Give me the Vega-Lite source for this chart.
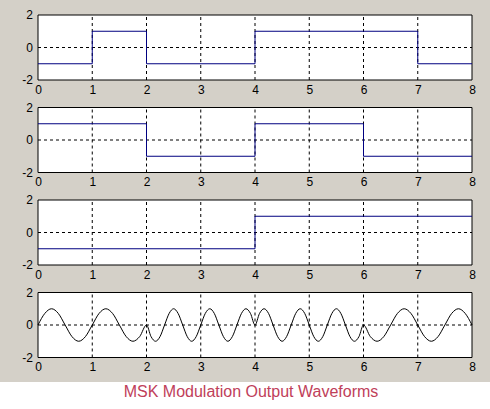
{
  "$schema": "https://vega.github.io/schema/vega-lite/v6.json",
  "background": "#d4d0c8",
  "padding": {"left": 0, "top": 9, "right": 0, "bottom": 0},
  "bounds": "full",
  "spacing": 6.5,
  "datasets": {
    "frame": [{}],
    "gridx": [{"g": 1}, {"g": 2}, {"g": 3}, {"g": 4}, {"g": 5}, {"g": 6}, {"g": 7}],
    "ylab": [{"v": -2}, {"v": 0}, {"v": 2}],
    "sq1": [
      {"x": 0, "y": -1}, {"x": 1, "y": 1}, {"x": 2, "y": -1}, {"x": 4, "y": 1}, {"x": 7, "y": -1}, {"x": 8, "y": -1}
    ],
    "sq2": [
      {"x": 0, "y": 1}, {"x": 2, "y": -1}, {"x": 4, "y": 1}, {"x": 6, "y": -1}, {"x": 8, "y": -1}
    ],
    "sq3": [
      {"x": 0, "y": -1}, {"x": 4, "y": 1}, {"x": 8, "y": 1}
    ],
    "wave": [
      {"x": 0, "y": 0}, {"x": 0.125, "y": 0.71}, {"x": 0.25, "y": 1}, {"x": 0.375, "y": 0.71}, {"x": 0.5, "y": 0}, {"x": 0.625, "y": -0.71}, {"x": 0.75, "y": -1}, {"x": 0.875, "y": -0.71},
      {"x": 1, "y": 0}, {"x": 1.125, "y": 0.71}, {"x": 1.25, "y": 1}, {"x": 1.375, "y": 0.71}, {"x": 1.5, "y": 0}, {"x": 1.625, "y": -0.71}, {"x": 1.75, "y": -1}, {"x": 1.875, "y": -0.71},
      {"x": 2, "y": 0}, {"x": 2.083, "y": -0.71}, {"x": 2.167, "y": -1}, {"x": 2.25, "y": -0.71}, {"x": 2.333, "y": 0}, {"x": 2.417, "y": 0.71}, {"x": 2.5, "y": 1}, {"x": 2.583, "y": 0.71}, {"x": 2.667, "y": 0}, {"x": 2.75, "y": -0.71}, {"x": 2.833, "y": -1}, {"x": 2.917, "y": -0.71},
      {"x": 3, "y": 0}, {"x": 3.083, "y": 0.71}, {"x": 3.167, "y": 1}, {"x": 3.25, "y": 0.71}, {"x": 3.333, "y": 0}, {"x": 3.417, "y": -0.71}, {"x": 3.5, "y": -1}, {"x": 3.583, "y": -0.71}, {"x": 3.667, "y": 0}, {"x": 3.75, "y": 0.71}, {"x": 3.833, "y": 1}, {"x": 3.917, "y": 0.71},
      {"x": 4, "y": 0}, {"x": 4.083, "y": 0.71}, {"x": 4.167, "y": 1}, {"x": 4.25, "y": 0.71}, {"x": 4.333, "y": 0}, {"x": 4.417, "y": -0.71}, {"x": 4.5, "y": -1}, {"x": 4.583, "y": -0.71}, {"x": 4.667, "y": 0}, {"x": 4.75, "y": 0.71}, {"x": 4.833, "y": 1}, {"x": 4.917, "y": 0.71},
      {"x": 5, "y": 0}, {"x": 5.083, "y": -0.71}, {"x": 5.167, "y": -1}, {"x": 5.25, "y": -0.71}, {"x": 5.333, "y": 0}, {"x": 5.417, "y": 0.71}, {"x": 5.5, "y": 1}, {"x": 5.583, "y": 0.71}, {"x": 5.667, "y": 0}, {"x": 5.75, "y": -0.71}, {"x": 5.833, "y": -1}, {"x": 5.917, "y": -0.71},
      {"x": 6, "y": 0}, {"x": 6.125, "y": -0.71}, {"x": 6.25, "y": -1}, {"x": 6.375, "y": -0.71}, {"x": 6.5, "y": 0}, {"x": 6.625, "y": 0.71}, {"x": 6.75, "y": 1}, {"x": 6.875, "y": 0.71},
      {"x": 7, "y": 0}, {"x": 7.125, "y": -0.71}, {"x": 7.25, "y": -1}, {"x": 7.375, "y": -0.71}, {"x": 7.5, "y": 0}, {"x": 7.625, "y": 0.71}, {"x": 7.75, "y": 1}, {"x": 7.875, "y": 0.71},
      {"x": 8, "y": 0}
    ],
    "caption": [{"label": "MSK Modulation Output Waveforms"}]
  },
  "config": {
    "view": {"stroke": null, "fill": null},
    "axis": {
      "labelFont": "Liberation Sans",
      "labelFontSize": 12,
      "labelColor": "black",
      "labelExpr": "'' + datum.value",
      "labelOverlap": false,
      "grid": false,
      "domain": false,
      "ticks": false,
      "title": null
    }
  },
  "vconcat": [
    {
      "width": 472, "height": 65,
      "layer": [
        {
          "data": {"name": "frame"},
          "mark": {"type": "rect", "fill": "white", "stroke": "black", "strokeWidth": 1},
          "encoding": {
            "x": {"datum": 0, "type": "quantitative", "scale": {"domain": [-0.7005, 8], "nice": false, "zero": false}, "axis": {"values": [0, 1, 2, 3, 4, 5, 6, 7, 8], "labelFlush": false, "labelPadding": 4, "minExtent": 15, "maxExtent": 15}},
            "x2": {"datum": 8},
            "y": {"datum": -2, "type": "quantitative", "scale": {"domain": [-2, 2], "nice": false}, "axis": null},
            "y2": {"datum": 2}
          }
        },
        {
          "data": {"name": "gridx"},
          "mark": {"type": "rule", "color": "black", "strokeDash": [3, 3], "strokeWidth": 1},
          "encoding": {"x": {"field": "g", "type": "quantitative"}, "y": {"datum": -2, "type": "quantitative"}, "y2": {"datum": 2}}
        },
        {
          "data": {"name": "frame"},
          "mark": {"type": "rule", "color": "black", "strokeDash": [3, 3], "strokeWidth": 1},
          "encoding": {"x": {"datum": 0, "type": "quantitative"}, "x2": {"datum": 8}, "y": {"datum": 0, "type": "quantitative"}}
        },
        {
          "data": {"name": "ylab"},
          "mark": {"type": "text", "align": "right", "baseline": "middle", "dx": -5, "font": "Liberation Sans", "fontSize": 12, "color": "black"},
          "encoding": {"x": {"datum": 0, "type": "quantitative"}, "y": {"field": "v", "type": "quantitative"}, "text": {"field": "v", "type": "nominal"}}
        },
        {
          "data": {"name": "sq1"},
          "mark": {"type": "line", "interpolate": "step-after", "color": "#000080", "strokeWidth": 1},
          "encoding": {"x": {"field": "x", "type": "quantitative"}, "y": {"field": "y", "type": "quantitative"}}
        }
      ]
    },
    {
      "width": 472, "height": 65,
      "layer": [
        {
          "data": {"name": "frame"},
          "mark": {"type": "rect", "fill": "white", "stroke": "black", "strokeWidth": 1},
          "encoding": {
            "x": {"datum": 0, "type": "quantitative", "scale": {"domain": [-0.7005, 8], "nice": false, "zero": false}, "axis": {"values": [0, 1, 2, 3, 4, 5, 6, 7, 8], "labelFlush": false, "labelPadding": 4, "minExtent": 15, "maxExtent": 15}},
            "x2": {"datum": 8},
            "y": {"datum": -2, "type": "quantitative", "scale": {"domain": [-2, 2], "nice": false}, "axis": null},
            "y2": {"datum": 2}
          }
        },
        {
          "data": {"name": "gridx"},
          "mark": {"type": "rule", "color": "black", "strokeDash": [3, 3], "strokeWidth": 1},
          "encoding": {"x": {"field": "g", "type": "quantitative"}, "y": {"datum": -2, "type": "quantitative"}, "y2": {"datum": 2}}
        },
        {
          "data": {"name": "frame"},
          "mark": {"type": "rule", "color": "black", "strokeDash": [3, 3], "strokeWidth": 1},
          "encoding": {"x": {"datum": 0, "type": "quantitative"}, "x2": {"datum": 8}, "y": {"datum": 0, "type": "quantitative"}}
        },
        {
          "data": {"name": "ylab"},
          "mark": {"type": "text", "align": "right", "baseline": "middle", "dx": -5, "font": "Liberation Sans", "fontSize": 12, "color": "black"},
          "encoding": {"x": {"datum": 0, "type": "quantitative"}, "y": {"field": "v", "type": "quantitative"}, "text": {"field": "v", "type": "nominal"}}
        },
        {
          "data": {"name": "sq2"},
          "mark": {"type": "line", "interpolate": "step-after", "color": "#000080", "strokeWidth": 1},
          "encoding": {"x": {"field": "x", "type": "quantitative"}, "y": {"field": "y", "type": "quantitative"}}
        }
      ]
    },
    {
      "width": 472, "height": 65,
      "layer": [
        {
          "data": {"name": "frame"},
          "mark": {"type": "rect", "fill": "white", "stroke": "black", "strokeWidth": 1},
          "encoding": {
            "x": {"datum": 0, "type": "quantitative", "scale": {"domain": [-0.7005, 8], "nice": false, "zero": false}, "axis": {"values": [0, 1, 2, 3, 4, 5, 6, 7, 8], "labelFlush": false, "labelPadding": 4, "minExtent": 15, "maxExtent": 15}},
            "x2": {"datum": 8},
            "y": {"datum": -2, "type": "quantitative", "scale": {"domain": [-2, 2], "nice": false}, "axis": null},
            "y2": {"datum": 2}
          }
        },
        {
          "data": {"name": "gridx"},
          "mark": {"type": "rule", "color": "black", "strokeDash": [3, 3], "strokeWidth": 1},
          "encoding": {"x": {"field": "g", "type": "quantitative"}, "y": {"datum": -2, "type": "quantitative"}, "y2": {"datum": 2}}
        },
        {
          "data": {"name": "frame"},
          "mark": {"type": "rule", "color": "black", "strokeDash": [3, 3], "strokeWidth": 1},
          "encoding": {"x": {"datum": 0, "type": "quantitative"}, "x2": {"datum": 8}, "y": {"datum": 0, "type": "quantitative"}}
        },
        {
          "data": {"name": "ylab"},
          "mark": {"type": "text", "align": "right", "baseline": "middle", "dx": -5, "font": "Liberation Sans", "fontSize": 12, "color": "black"},
          "encoding": {"x": {"datum": 0, "type": "quantitative"}, "y": {"field": "v", "type": "quantitative"}, "text": {"field": "v", "type": "nominal"}}
        },
        {
          "data": {"name": "sq3"},
          "mark": {"type": "line", "interpolate": "step-after", "color": "#000080", "strokeWidth": 1},
          "encoding": {"x": {"field": "x", "type": "quantitative"}, "y": {"field": "y", "type": "quantitative"}}
        }
      ]
    },
    {
      "width": 472, "height": 65,
      "layer": [
        {
          "data": {"name": "frame"},
          "mark": {"type": "rect", "fill": "white", "stroke": "black", "strokeWidth": 1},
          "encoding": {
            "x": {"datum": 0, "type": "quantitative", "scale": {"domain": [-0.7005, 8], "nice": false, "zero": false}, "axis": {"values": [0, 1, 2, 3, 4, 5, 6, 7, 8], "labelFlush": false, "labelPadding": 4, "minExtent": 18, "maxExtent": 18}},
            "x2": {"datum": 8},
            "y": {"datum": -2, "type": "quantitative", "scale": {"domain": [-2, 2], "nice": false}, "axis": null},
            "y2": {"datum": 2}
          }
        },
        {
          "data": {"name": "gridx"},
          "mark": {"type": "rule", "color": "black", "strokeDash": [3, 3], "strokeWidth": 1},
          "encoding": {"x": {"field": "g", "type": "quantitative"}, "y": {"datum": -2, "type": "quantitative"}, "y2": {"datum": 2}}
        },
        {
          "data": {"name": "frame"},
          "mark": {"type": "rule", "color": "black", "strokeDash": [3, 3], "strokeWidth": 1},
          "encoding": {"x": {"datum": 0, "type": "quantitative"}, "x2": {"datum": 8}, "y": {"datum": 0, "type": "quantitative"}}
        },
        {
          "data": {"name": "ylab"},
          "mark": {"type": "text", "align": "right", "baseline": "middle", "dx": -5, "font": "Liberation Sans", "fontSize": 12, "color": "black"},
          "encoding": {"x": {"datum": 0, "type": "quantitative"}, "y": {"field": "v", "type": "quantitative"}, "text": {"field": "v", "type": "nominal"}}
        },
        {
          "data": {"name": "wave"},
          "mark": {"type": "line", "interpolate": "monotone", "color": "black", "strokeWidth": 1},
          "encoding": {"x": {"field": "x", "type": "quantitative"}, "y": {"field": "y", "type": "quantitative"}}
        }
      ]
    },
    {
      "width": 490, "height": 28,
      "view": {"fill": "white", "stroke": null},
      "data": {"name": "caption"},
      "mark": {"type": "text", "font": "Liberation Sans", "fontSize": 16, "color": "#c0405a", "dy": -4, "dx": 6},
      "encoding": {"text": {"field": "label", "type": "nominal"}}
    }
  ]
}
